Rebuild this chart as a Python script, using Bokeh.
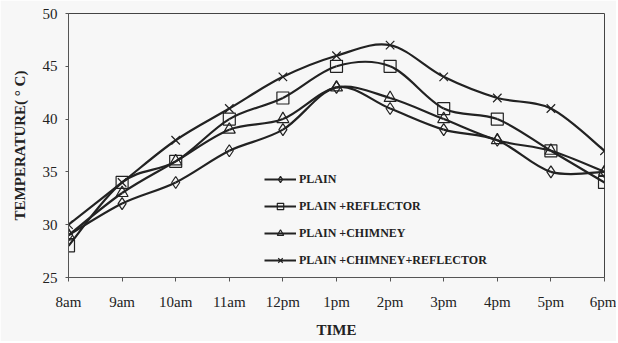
from bokeh.plotting import figure
from bokeh.models import Range1d, FixedTicker, Legend, LegendItem
from bokeh.embed import file_html
from bokeh.resources import INLINE

times = ["8am", "9am", "10am", "11am", "12pm", "1pm", "2pm", "3pm", "4pm", "5pm", "6pm"]
plain = [29, 32, 34, 37, 39, 43, 41, 39, 38, 35, 35]
plain_reflector = [28, 34, 36, 40, 42, 45, 45, 41, 40, 37, 34]
plain_chimney = [29, 33, 36, 39, 40, 43, 42, 40, 38, 37, 35]
plain_chimney_reflector = [30, 34, 38, 41, 44, 46, 47, 44, 42, 41, 37]
labels = ["PLAIN", "PLAIN +REFLECTOR", "PLAIN +CHIMNEY", "PLAIN +CHIMNEY+REFLECTOR"]
markers = ["diamond", "square", "triangle", "x"]

SERIF = "Liberation Serif"
INK = "#222222"

p = figure(width=616, height=341, output_backend="svg", toolbar_location=None,
           x_range=Range1d(0, len(times) - 1), y_range=Range1d(25, 50),
           min_border_left=68, min_border_right=12, min_border_top=13, min_border_bottom=64,
           background_fill_color="#f7f7f7", border_fill_color="#f7f7f7")
p.outline_line_color = "#444444"
p.outline_line_width = 1
p.xgrid.visible = False
p.ygrid.visible = False

p.xaxis.ticker = FixedTicker(ticks=list(range(len(times))))
p.xaxis.major_label_overrides = {i: t for i, t in enumerate(times)}
p.yaxis.ticker = FixedTicker(ticks=[25, 30, 35, 40, 45, 50])
for ax in (p.xaxis[0], p.yaxis[0]):
    ax.axis_line_color = "#555555"
    ax.major_tick_line_color = "#555555"
    ax.major_tick_out = 4
    ax.major_tick_in = 0
    ax.minor_tick_line_color = None
    ax.major_label_text_font = SERIF
    ax.major_label_text_font_size = "15px"
    ax.major_label_text_color = "#222222"
    ax.axis_label_text_font = SERIF
    ax.axis_label_text_font_style = "bold"
    ax.axis_label_text_color = "#222222"
p.yaxis.major_tick_out = 3
p.xaxis.major_label_standoff = 12
p.yaxis.major_label_standoff = 8
p.xaxis.axis_label = "TIME"
p.xaxis.axis_label_text_font_size = "15px"
p.xaxis.axis_label_standoff = 9
p.yaxis.axis_label = "TEMPERATURE( ° C)"
p.yaxis.axis_label_text_font_size = "15px"
p.yaxis.axis_label_standoff = 12

items = []
series = [plain, plain_reflector, plain_chimney, plain_chimney_reflector]
xs = list(range(len(times)))
for ys, lab, mk in zip(series, labels, markers):
    n = len(ys)
    x0, y0, x1, y1, cx0, cy0, cx1, cy1 = [], [], [], [], [], [], [], []
    for i in range(n - 1):
        im = max(i - 1, 0)
        ip = min(i + 2, n - 1)
        x0.append(xs[i]); y0.append(ys[i])
        x1.append(xs[i + 1]); y1.append(ys[i + 1])
        cx0.append(xs[i] + (xs[i + 1] - xs[im]) / 6.0)
        cy0.append(ys[i] + (ys[i + 1] - ys[im]) / 6.0)
        cx1.append(xs[i + 1] - (xs[ip] - xs[i]) / 6.0)
        cy1.append(ys[i + 1] - (ys[ip] - ys[i]) / 6.0)
    p.bezier(x0=x0, y0=y0, x1=x1, y1=y1, cx0=cx0, cy0=cy0, cx1=cx1, cy1=cy1,
             line_color=INK, line_width=2.2)
    lr = p.line(xs, ys, line_color=INK, line_width=2.2)
    lr.visible = False
    sr = p.scatter(xs, ys, marker=mk, size=12, line_color=INK, line_width=1.2,
                   fill_color=None)
    items.append(LegendItem(label=lab, renderers=[lr, sr]))

legend = Legend(items=items, location=(196, 9), orientation="vertical",
                background_fill_alpha=0, border_line_color=None,
                label_text_font=SERIF, label_text_font_style="bold",
                label_text_font_size="12px", label_text_color="#222222",
                glyph_width=32, glyph_height=16, label_height=16, spacing=11,
                padding=2, margin=0, label_standoff=3)
p.add_layout(legend, "center")

open("out.html", "w").write(file_html(p, INLINE))
